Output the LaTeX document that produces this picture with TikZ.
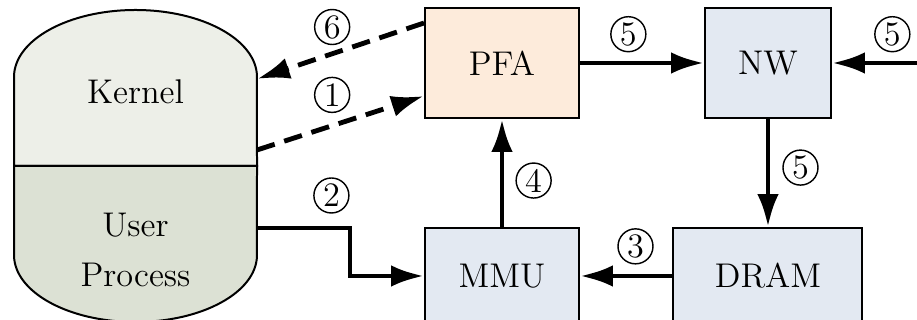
\documentclass[tikz,border=0pt]{standalone}
\usepackage{xcolor}
\definecolor{kernelfill}{HTML}{EDEFE8}
\definecolor{userfill}{HTML}{DCE1D4}
\definecolor{pfafill}{HTML}{FDEBDB}
\definecolor{hwfill}{HTML}{E3E9F2}
\usepackage{tikz}
\usetikzlibrary{arrows.meta}
\usetikzlibrary{positioning}
\usetikzlibrary{calc}

\begin{document}
\begin{tikzpicture}[x=0.35pt, y=-0.35pt, node distance=93.1pt, font=\fontsize{12}{17.5}\selectfont]

% Define block styles
\tikzstyle{block} = [rectangle, draw, line width=0.7pt, fill=hwfill,
    minimum width=53.9pt, minimum height=38.5pt, inner sep=0pt]
\tikzstyle{line} = [draw, line width=1.7pt, -{Latex[length=11.5pt,width=7.5pt]}]
\tikzstyle{dline} = [line, dash pattern=on 6.5pt off 3.5pt]
\tikzstyle{num} = [circle, draw, solid, line width=0.5pt, minimum size=12.25pt, inner sep=0pt]
\tikzstyle{vessel} = [draw, line width=0.7pt]

\useasboundingbox (0,0) rectangle (917,320);
\clip (0,0) rectangle (917,320);

    % Kernel / user process vessel
    \path [vessel, fill=kernelfill] (14,166) -- (14,77)
        arc [start angle=180, end angle=0, x radius=42.525pt, y radius=23.45pt] -- (257,166) -- cycle;
    \path [vessel, fill=userfill] (14,166) -- (14,255)
        arc [start angle=180, end angle=360, x radius=42.525pt, y radius=23.45pt] -- (257,166) -- cycle;
    \node (kernel) at (135.5,92) {Kernel};
    \node [align=center] (user) at (135.5,250) {User\\Process};
    \coordinate (kin) at (257,79);
    \coordinate (kout) at (257,150);
    \coordinate (uout) at (257,228);
    \coordinate (ext) at (917,63);

    % Place nodes
    \node [block, fill=pfafill] (pfa) at (502,63) {PFA};
    \node [block, minimum width=44.1pt, right of=pfa] (nw) {NW};
    \node [block, minimum height=33.6pt, below of=pfa, node distance=74.55pt] (mmu) {MMU};
    \node [block, minimum width=66.15pt, minimum height=33.6pt, below of=nw, node distance=74.55pt] (dram) {DRAM};

    \path [dline] ($(pfa.north west)+(0,16)$) -- node [num, above=3pt, pos=.55] {6} (kin);
    \path [dline] (kout) -- node [num, above=4.4pt, pos=.45] {1} ($(pfa.south west)+(0,-23)$);
    \path [line] (uout) -- node [num, above=5pt, pos=.8] {2} ++(93,0) |- (mmu);
    \path [line] (dram) -- node [num, above=4pt, pos=.4] {3} (mmu);
    \path [line] (mmu) -- node [num, right=4.7pt, pos=.43] {4} (pfa);
    \path [line] (pfa) -- node [num, above=3.7pt, pos=.39] {5} (nw);
    \path [line] (nw) -- node [num, right=5pt, pos=.45] {5} (dram);
    \path [line] (ext) -- node [num, above=3.7pt, pos=.29] {5} (nw);
\end{tikzpicture}
\end{document}
